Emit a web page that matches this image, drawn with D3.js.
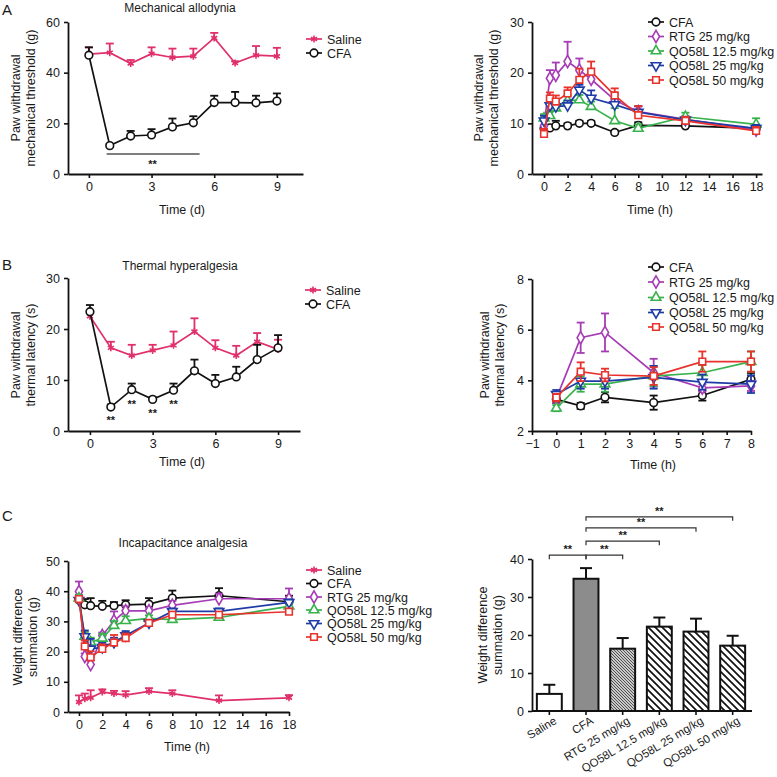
<!DOCTYPE html>
<html><head><meta charset="utf-8">
<script src="https://cdn.jsdelivr.net/npm/d3@7"></script>
<style>
body{margin:0;background:#fff;}
svg text{font-family:"Liberation Sans",Arial,sans-serif;fill:#1a1a1a;}
</style></head><body>
<svg id="c" width="777" height="777"></svg>
<script>
// ---------- Panel A left: mechanical allodynia (days) ----------
const daysA = [0,1,2,3,4,5,6,7,8,9];
const mechSaline    = [47.3,47.9,43.6,47.5,46.0,46.5,53.7,43.8,46.9,46.5];
const mechSalineErr = [2.7,3.6,1.4,2.5,3.5,3.0,2.0,0.7,3.6,3.3];
const mechCFA       = [46.9,11.2,15.0,15.4,18.6,20.2,28.2,28.2,28.1,28.8];
const mechCFAErr    = [3.1,0.6,2.0,2.3,3.3,2.6,2.7,4.2,2.8,3.0];
const ticksA1x = [0,3,6,9];
const ticksA1y = [0,20,40,60];

// ---------- Panel A right: mechanical threshold (hours) ----------
const hoursA = [0,0.5,1,2,3,4,6,8,12,18];
const mechH_CFA    = [9.0,9.1,9.5,9.5,10.0,10.0,8.2,9.6,9.5,9.0];
const mechH_CFAErr = [0.5,0.6,1.0,0.5,0.5,0.5,0.4,0.6,0.5,0.5];
const mechH_RTG    = [9.5,18.9,19.5,22.2,20.5,18.7,14.6,12.3,10.8,8.7];
const mechH_RTGErr = [1.0,1.6,2.5,3.9,2.3,1.0,1.2,1.0,0.6,0.6];
const mechH_Q12    = [11.0,11.5,13.0,14.5,14.6,13.3,10.5,9.0,11.3,9.8];
const mechH_Q12Err = [0.8,1.0,1.0,1.0,1.0,1.0,2.5,0.8,0.8,1.2];
const mechH_Q25    = [10.5,13.5,13.3,13.5,16.6,15.0,13.7,12.2,10.7,9.0];
const mechH_Q25Err = [1.0,1.0,1.2,1.0,1.0,1.5,1.2,1.2,0.6,0.7];
const mechH_Q50    = [7.9,14.9,14.3,15.9,18.6,20.2,15.5,11.6,10.5,8.5];
const mechH_Q50Err = [1.0,1.2,1.2,1.2,2.2,2.0,1.4,1.8,0.8,0.8];
const ticksA2x = [0,2,4,6,8,10,12,14,16,18];
const ticksA2y = [0,10,20,30];

// ---------- Panel B left: thermal hyperalgesia (days) ----------
const daysB = [0,1,2,3,4,5,6,7,8,9];
const thermSaline    = [22.5,16.3,14.8,15.8,16.8,19.5,16.3,14.8,17.5,16.0];
const thermSalineErr = [1.0,1.2,2.1,1.1,2.7,2.6,1.5,1.9,1.7,1.9];
const thermCFA       = [23.4,4.7,8.1,6.2,8.0,11.8,9.3,10.6,14.0,16.3];
const thermCFAErr    = [1.3,0.5,1.2,0.5,1.3,2.2,1.7,2.0,2.9,2.5];
const thermSigDays   = [1,2,3,4];
const thermSigY      = [2.5,5.7,3.9,5.7];
const ticksB1x = [0,3,6,9];
const ticksB1y = [0,10,20,30];

// ---------- Panel B right: thermal latency (hours) ----------
const hoursB = [0,1,2,4,6,8];
const thermH_CFA    = [3.25,2.99,3.33,3.12,3.40,4.04];
const thermH_CFAErr = [0.15,0.12,0.2,0.28,0.2,0.25];
const thermH_RTG    = [3.29,5.68,5.89,4.30,3.70,3.78];
const thermH_RTGErr = [0.2,0.6,0.75,0.55,0.15,0.2];
const thermH_Q12    = [2.9,3.85,3.85,4.17,4.3,4.74];
const thermH_Q12Err = [0.12,0.3,0.3,0.4,0.3,0.4];
const thermH_Q25    = [3.45,3.97,3.97,4.12,3.93,3.85];
const thermH_Q25Err = [0.17,0.3,0.3,0.45,0.3,0.35];
const thermH_Q50    = [3.32,4.34,4.21,4.17,4.74,4.74];
const thermH_Q50Err = [0.15,0.37,0.25,0.35,0.4,0.4];
const ticksB2x = [-1,0,1,2,3,4,5,6,7,8];
const ticksB2y = [2,4,6,8];

// ---------- Panel C left: incapacitance (hours) ----------
const hoursC = [0,0.5,1,2,3,4,6,8,12,18];
const incSaline    = [3.3,4.4,4.7,6.6,6.1,5.6,6.8,6.1,3.8,4.7];
const incSalineErr = [2.2,1.7,2.5,0.9,0.9,1.3,1.1,1.1,1.7,0.9];
const incCFA       = [37.2,35.5,35.2,35.0,35.2,35.5,35.7,37.7,38.5,36.5];
const incCFAErr    = [1.5,1.9,2.5,1.8,1.2,1.5,2.0,2.5,2.5,2.0];
const incRTG       = [39.9,18.4,15.7,25.3,30.2,33.5,33.5,35.3,37.5,37.5];
const incRTGErr    = [3.3,1.0,1.5,1.0,3.1,1.5,1.0,1.5,1.7,3.4];
const incQ12       = [37.7,25.0,23.1,24.4,28.6,30.2,31.0,30.6,31.3,35.0];
const incQ12Err    = [1.0,1.5,1.5,1.5,1.5,1.5,1.0,1.0,1.0,1.0];
const incQ25       = [37.0,25.0,20.9,21.4,23.1,25.3,29.5,33.3,33.3,36.3];
const incQ25Err    = [1.0,2.0,3.3,1.5,1.5,1.5,1.0,1.0,1.0,1.0];
const incQ50       = [37.4,21.7,18.1,20.9,23.0,24.5,29.5,32.2,32.2,33.2];
const incQ50Err    = [1.0,2.0,2.0,1.5,2.5,1.5,1.0,1.0,1.0,1.0];
const ticksC1x = [0,2,4,6,8,10,12,14,16,18];
const ticksC1y = [0,10,20,30,40,50];

// ---------- Panel C right: bar chart ----------
const barCats = ["Saline","CFA","RTG 25 mg/kg","QO58L 12.5 mg/kg","QO58L 25 mg/kg","QO58L 50 mg/kg"];
const barVals = [4.5,34.8,16.4,22.2,20.9,17.2];
const barErr  = [2.4,2.8,2.8,2.4,3.4,2.6];
const barComparisons = [[0,1],[1,2],[1,3],[1,4],[1,5]];
const barComparisonLevels = [41.0,41.0,44.7,48.2,51.1];
const ticksC2y = [0,10,20,30,40];

// ---------- styling ----------
const COL = {saline:"#e0306a", cfa:"#111111", rtg:"#a63cb5", q12:"#38b24c", q25:"#1f3ca6", q50:"#e8332c"};
const SYM = {
  star:{t:d3.symbolAsterisk,s:34,fill:"none",rot:0},
  circle:{t:d3.symbolCircle,s:46,fill:"#fff",rot:0},
  diamond:{t:d3.symbolDiamond,s:44,fill:"#fff",rot:0},
  tri:{t:d3.symbolTriangle,s:40,fill:"#fff",rot:0},
  triDown:{t:d3.symbolTriangle,s:40,fill:"#fff",rot:180},
  square:{t:d3.symbolSquare,s:44,fill:"#fff",rot:0}
};
const svg = d3.select("#c");
const intFmt = d3.format("d");

function marker(g, cx, cy, shape, color){
  const m = SYM[shape];
  g.append("path").attr("d", d3.symbol().type(m.t).size(m.s)())
    .attr("transform", `translate(${cx},${cy}) rotate(${m.rot})`)
    .attr("fill", m.fill).attr("stroke", color).attr("stroke-width", 1.6);
}

function styleAxis(a){
  a.selectAll("path.domain").attr("stroke","#111").attr("stroke-width",1.8);
  a.selectAll(".tick line").attr("stroke","#111").attr("stroke-width",1.6);
  a.selectAll("text").attr("font-size","12.5px").attr("fill","#1a1a1a")
    .attr("font-family",'"Liberation Sans",Arial,sans-serif');
}

function yLabel(lines, cx, cy){
  lines.forEach((t,i)=>{
    svg.append("text").attr("transform",`translate(${cx[i]},${cy}) rotate(-90)`)
      .attr("text-anchor","middle").attr("font-size","12.5px").text(t);
  });
}

function linePanel(p){
  const x = d3.scaleLinear().domain(p.xd).range([p.left, p.right]);
  const y = d3.scaleLinear().domain(p.yd).range([p.bottom, p.top]);
  const g = svg.append("g");
  p.series.forEach(s=>{
    const pts = p.xs.map((t,i)=>({t, v:s.vals[i], e:s.errs[i]}));
    g.append("path").datum(pts)
      .attr("d", d3.line().x(d=>x(d.t)).y(d=>y(d.v)))
      .attr("fill","none").attr("stroke",s.color).attr("stroke-width",1.7);
    pts.forEach(d=>{
      const lo = p.both ? d.v - d.e : d.v;
      const hi = d.v + d.e;
      g.append("line").attr("x1",x(d.t)).attr("x2",x(d.t)).attr("y1",y(lo)).attr("y2",y(hi))
        .attr("stroke",s.color).attr("stroke-width",1.8);
      g.append("line").attr("x1",x(d.t)-4).attr("x2",x(d.t)+4).attr("y1",y(hi)).attr("y2",y(hi))
        .attr("stroke",s.color).attr("stroke-width",1.8);
      if (p.both) g.append("line").attr("x1",x(d.t)-4).attr("x2",x(d.t)+4).attr("y1",y(lo)).attr("y2",y(lo))
        .attr("stroke",s.color).attr("stroke-width",1.8);
    });
    pts.forEach(d=> marker(g, x(d.t), y(d.v), s.shape, s.color));
  });
  const ax = svg.append("g").attr("transform",`translate(0,${p.bottom})`)
    .call(d3.axisBottom(x).tickValues(p.xt).tickFormat(intFmt).tickSize(4).tickSizeOuter(0).tickPadding(4));
  styleAxis(ax);
  const ay = svg.append("g").attr("transform",`translate(${p.left},0)`)
    .call(d3.axisLeft(y).tickValues(p.yt).tickFormat(intFmt).tickSize(4).tickSizeOuter(0).tickPadding(4));
  styleAxis(ay);
  if (p.xlabel) svg.append("text").attr("x",p.xlabel[1]).attr("y",p.xlabel[2])
      .attr("text-anchor","middle").attr("font-size","12.5px").text(p.xlabel[0]);
  if (p.title) svg.append("text").attr("x",p.title[1]).attr("y",p.title[2])
      .attr("text-anchor","middle").attr("font-size","12px").text(p.title[0]);
  return {x,y};
}

function legend(x0, ys, items){
  items.forEach((it,i)=>{
    const g = svg.append("g");
    g.append("line").attr("x1",x0).attr("x2",x0+16).attr("y1",ys[i]).attr("y2",ys[i])
      .attr("stroke",it.color).attr("stroke-width",1.7);
    marker(g, x0+8, ys[i], it.shape, it.color);
    g.append("text").attr("x",x0+21).attr("y",ys[i]).attr("dy","0.36em")
      .attr("font-size","12.5px").text(it.label);
  });
}

const S_SAL = {label:"Saline", color:COL.saline, shape:"star"};
const S_CFA = {label:"CFA", color:COL.cfa, shape:"circle"};
const S_RTG = {label:"RTG 25 mg/kg", color:COL.rtg, shape:"diamond"};
const S_Q12 = {label:"QO58L 12.5 mg/kg", color:COL.q12, shape:"tri"};
const S_Q25 = {label:"QO58L 25 mg/kg", color:COL.q25, shape:"triDown"};
const S_Q50 = {label:"QO58L 50 mg/kg", color:COL.q50, shape:"square"};

// panel letters
[["A",2,15],["B",2,270],["C",2,521]].forEach(d=>{
  svg.append("text").attr("x",d[1]).attr("y",d[2]).attr("font-size","15px").text(d[0]);
});

// ---- A left ----
const pA1 = linePanel({left:68,right:303,top:22,bottom:174,xd:[-1,10.25],yd:[0,60],
  xt:ticksA1x, yt:ticksA1y, xs:daysA, both:false,
  series:[{...S_SAL, vals:mechSaline, errs:mechSalineErr},{...S_CFA, vals:mechCFA, errs:mechCFAErr}],
  xlabel:["Time (d)",182,214], title:["Mechanical allodynia",180,12]});
yLabel(["Paw withdrawal","mechanical threshold (g)"],[20,35],98);
legend(306,[39,53],[S_SAL,S_CFA]);
svg.append("line").attr("x1",pA1.x(0.85)).attr("x2",pA1.x(5.3)).attr("y1",pA1.y(7.9)).attr("y2",pA1.y(7.9))
  .attr("stroke","#555").attr("stroke-width",1.5);
svg.append("text").attr("x",pA1.x(3.05)).attr("y",pA1.y(4.7)).attr("dy","0.55em").attr("text-anchor","middle")
  .attr("font-size","11px").attr("font-weight","bold").text("**");

// ---- A right ----
linePanel({left:532,right:762,top:22,bottom:174,xd:[-1.02,18.5],yd:[0,30],
  xt:ticksA2x, yt:ticksA2y, xs:hoursA, both:false,
  series:[{...S_CFA, vals:mechH_CFA, errs:mechH_CFAErr},{...S_RTG, vals:mechH_RTG, errs:mechH_RTGErr},
          {...S_Q12, vals:mechH_Q12, errs:mechH_Q12Err},{...S_Q25, vals:mechH_Q25, errs:mechH_Q25Err},
          {...S_Q50, vals:mechH_Q50, errs:mechH_Q50Err}],
  xlabel:["Time (h)",650,214]});
yLabel(["Paw withdrawal","mechanical threshold (g)"],[483,498],98);
legend(648,[22,36.5,51,65.5,80],[S_CFA,S_RTG,S_Q12,S_Q25,S_Q50]);

// ---- B left ----
const pB1 = linePanel({left:68,right:300,top:278,bottom:431,xd:[-1.05,10.05],yd:[0,30],
  xt:ticksB1x, yt:ticksB1y, xs:daysB, both:false,
  series:[{...S_SAL, vals:thermSaline, errs:thermSalineErr},{...S_CFA, vals:thermCFA, errs:thermCFAErr}],
  xlabel:["Time (d)",182,466], title:["Thermal hyperalgesia",180,270]});
yLabel(["Paw withdrawal","thermal latency (s)"],[20,35],355);
legend(305,[290,304],[S_SAL,S_CFA]);
thermSigDays.forEach((d,i)=>{
  svg.append("text").attr("x",pB1.x(d)).attr("y",pB1.y(thermSigY[i])).attr("dy","0.55em")
    .attr("text-anchor","middle").attr("font-size","11px").attr("font-weight","bold").text("**");
});

// ---- B right ----
linePanel({left:532,right:751,top:279,bottom:431,xd:[-1,8],yd:[2,8],
  xt:ticksB2x, yt:ticksB2y, xs:hoursB, both:true,
  series:[{...S_CFA, vals:thermH_CFA, errs:thermH_CFAErr},{...S_RTG, vals:thermH_RTG, errs:thermH_RTGErr},
          {...S_Q12, vals:thermH_Q12, errs:thermH_Q12Err},{...S_Q25, vals:thermH_Q25, errs:thermH_Q25Err},
          {...S_Q50, vals:thermH_Q50, errs:thermH_Q50Err}],
  xlabel:["Time (h)",653,469]});
yLabel(["Paw withdrawal","thermal latency (s)"],[489,504],355);
legend(648,[267,282,297.5,312.5,327],[S_CFA,S_RTG,S_Q12,S_Q25,S_Q50]);

// ---- C left ----
linePanel({left:68,right:289,top:561,bottom:712,xd:[-0.94,18],yd:[0,50],
  xt:ticksC1x, yt:ticksC1y, xs:hoursC, both:false,
  series:[{...S_SAL, vals:incSaline, errs:incSalineErr},{...S_CFA, vals:incCFA, errs:incCFAErr},
          {...S_RTG, vals:incRTG, errs:incRTGErr},{...S_Q12, vals:incQ12, errs:incQ12Err},
          {...S_Q25, vals:incQ25, errs:incQ25Err},{...S_Q50, vals:incQ50, errs:incQ50Err}],
  xlabel:["Time (h)",187,751], title:["Incapacitance analgesia",183,547]});
yLabel(["Weight difference","summation (g)"],[22,37],637);
legend(306,[570,583.5,597,610,623.5,637],[S_SAL,S_CFA,S_RTG,S_Q12,S_Q25,S_Q50]);

// ---- C right (bars) ----
(function(){
  const defs = svg.append("defs");
  const p1 = defs.append("pattern").attr("id","hatchDense").attr("patternUnits","userSpaceOnUse")
    .attr("width",3).attr("height",3);
  p1.append("rect").attr("width",3).attr("height",3).attr("fill","#c8c8c8");
  p1.append("path").attr("d","M-1,-1L4,4M-1,2L1,4M2,-1L4,1").attr("stroke","#444").attr("stroke-width",0.9);
  const p2 = defs.append("pattern").attr("id","hatchWide").attr("patternUnits","userSpaceOnUse")
    .attr("width",7).attr("height",7);
  p2.append("rect").attr("width",7).attr("height",7).attr("fill","#fff");
  p2.append("path").attr("d","M-1,-1L8,8M-1,6L1,8M6,-1L8,1").attr("stroke","#111").attr("stroke-width",1.7);
  const fills = ["#ffffff","#8c8c8c","url(#hatchDense)","url(#hatchWide)","url(#hatchWide)","url(#hatchWide)"];

  const x = d3.scaleBand().domain(barCats).range([531,751]).paddingInner(0.32).paddingOuter(0.16);
  const y = d3.scaleLinear().domain([0,40]).range([711,559]);
  const g = svg.append("g");
  barCats.forEach((c,i)=>{
    const cx = x(c) + x.bandwidth()/2;
    g.append("line").attr("x1",cx).attr("x2",cx).attr("y1",y(barVals[i])).attr("y2",y(barVals[i]+barErr[i]))
      .attr("stroke","#111").attr("stroke-width",2);
    g.append("line").attr("x1",cx-6).attr("x2",cx+6).attr("y1",y(barVals[i]+barErr[i])).attr("y2",y(barVals[i]+barErr[i]))
      .attr("stroke","#111").attr("stroke-width",2);
    g.append("rect").attr("x",x(c)).attr("width",x.bandwidth()).attr("y",y(barVals[i]))
      .attr("height",y(0)-y(barVals[i])).attr("fill",fills[i]).attr("stroke","#111").attr("stroke-width",2);
  });
  const ax = svg.append("g").attr("transform","translate(0,711)")
    .call(d3.axisBottom(x).tickSize(4).tickSizeOuter(0).tickFormat(""));
  styleAxis(ax);
  ax.select("path.domain").attr("d","M532,0H752");
  barCats.forEach(c=>{
    const cx = x(c) + x.bandwidth()/2;
    svg.append("text").attr("transform",`translate(${cx+4},${716}) rotate(-31)`)
      .attr("text-anchor","end").attr("dy","0.7em").attr("font-size","11.5px").text(c);
  });
  const ay = svg.append("g").attr("transform","translate(532,0)")
    .call(d3.axisLeft(y).tickValues(ticksC2y).tickFormat(intFmt).tickSize(4).tickSizeOuter(0).tickPadding(4));
  styleAxis(ay);
  barComparisons.forEach((cmp,i)=>{
    const xa = x(barCats[cmp[0]]) + x.bandwidth()/2;
    const xb = x(barCats[cmp[1]]) + x.bandwidth()/2;
    const yy = y(barComparisonLevels[i]);
    svg.append("path").attr("d",`M${xa},${yy+4}V${yy}H${xb}V${yy+4}`)
      .attr("fill","none").attr("stroke","#333").attr("stroke-width",1.2);
    svg.append("text").attr("x",(xa+xb)/2).attr("y",yy-2).attr("text-anchor","middle")
      .attr("font-size","11px").attr("font-weight","bold").text("**");
  });
  yLabel(["Weight difference","summation (g)"],[487,502],635);
})();
</script>
</body></html>
